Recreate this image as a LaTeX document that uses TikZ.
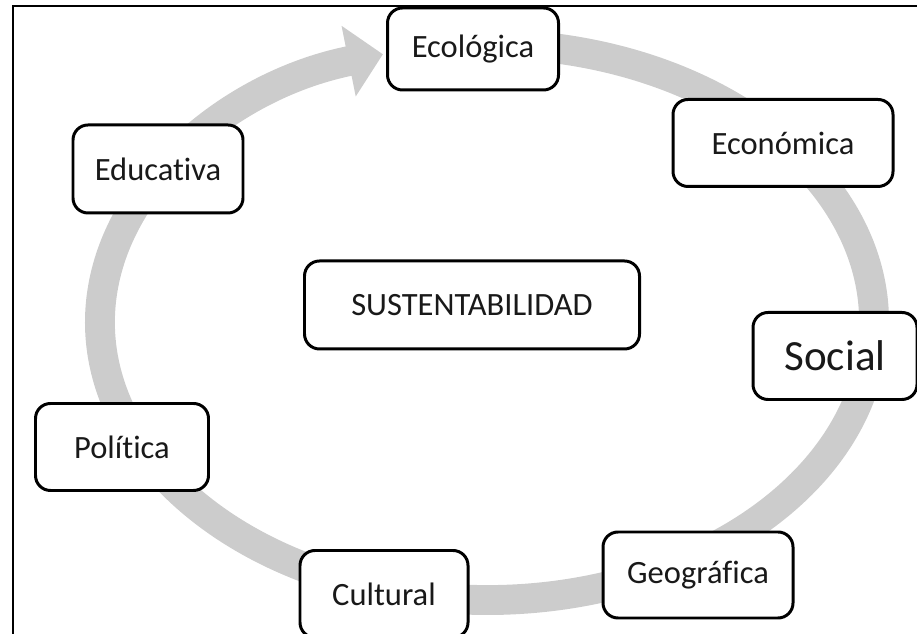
\documentclass[tikz,border=0pt]{standalone}
\usepackage{fontspec}
\setmainfont[RawFeature={-liga;-clig;-calt;-dlig}]{Carlito}
\usetikzlibrary{arrows.meta, positioning}
\definecolor{cicloris}{RGB}{204, 204, 204}
\definecolor{textonegro}{RGB}{25, 25, 25}
\tikzset{
  caja/.style={
    draw=black,
    line width=1.7pt,
    rounded corners=0.3cm,
    fill=white,
    minimum height=1.74cm,
    inner sep=2pt,
    text=textonegro,
    font=\fontsize{18.5}{22}\selectfont
  },
  ciclo/.style={
    draw=cicloris,
    line width=17pt,
    -{Triangle[width=1.4cm, length=0.7cm]}
  },
  marco/.style={
    draw=black,
    line width=1.2pt
  }
}
\begin{document}
\begin{tikzpicture}
  \useasboundingbox (0,0) rectangle (18.34,12.68);
  % marco
  \coordinate (esq) at (0.26,12.56);
  \coordinate (der) at (18.34,12.56);
  \coordinate (inf) at (0.26,0);
  \draw[marco] (der) -- (esq) -- (inf);
  % flecha circular
  \draw[ciclo] (9.74,6.24) ++(80:7.74cm and 5.56cm) arc[start angle=80, end angle=-254.4, x radius=7.74cm, y radius=5.56cm];
  % dimensiones
  \node[caja, minimum width=3.42cm, minimum height=1.64cm] (ecologica) at (9.46, 11.70) {Ecológica};
  \node[caja, minimum width=4.40cm] (economica) at (15.66, 9.82) {Económica};
  \node[caja, minimum width=3.28cm, font=\fontsize{24.5}{28}\selectfont] (social) at (16.70, 5.56) {Social};
  \node[caja, minimum width=3.80cm, minimum height=1.72cm] (geografica) at (13.96, 1.18) {Geográfica};
  \node[caja, minimum width=3.36cm] (cultural) at (7.68, 0.80) {Cultural};
  \node[caja, minimum width=3.46cm] (politica) at (2.44, 3.74) {Polít\kern0pt ica};
  \node[caja, minimum width=3.40cm, minimum height=1.76cm] (educativa) at (3.16, 9.30) {Educat\kern0pt iva};
  \node[caja, minimum width=6.70cm, minimum height=1.76cm] (centro) at (9.44, 6.58) {SUSTENTABILIDAD};
\end{tikzpicture}
\end{document}
